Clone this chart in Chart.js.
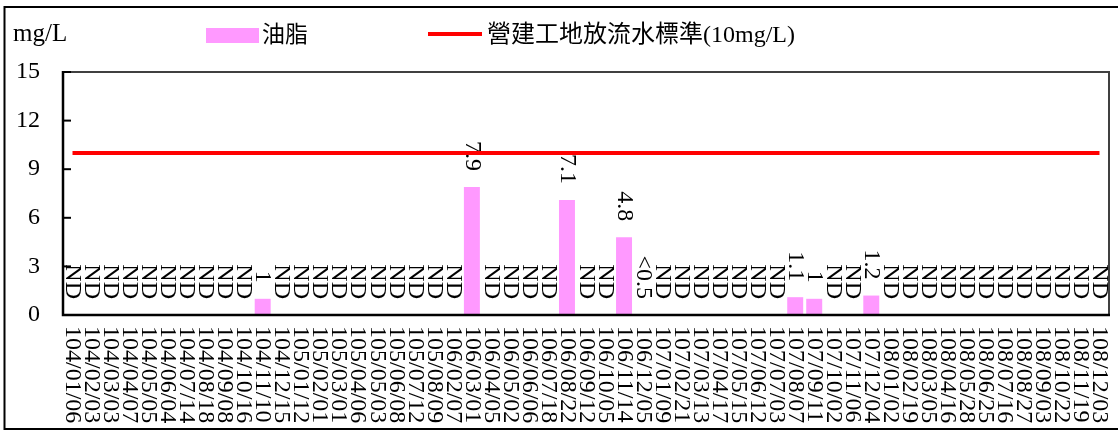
<!DOCTYPE html>
<html><head><meta charset="utf-8">
<script src="https://cdn.jsdelivr.net/npm/chart.js@4.4.1/dist/chart.umd.min.js"></script>
<style>html,body{margin:0;padding:0;background:#fff;}canvas{display:block;}</style>
</head><body>
<canvas id="c" width="1118" height="432"></canvas>
<script>
const categories = ["104/01/06","104/02/03","104/03/03","104/04/07","104/05/05","104/06/04","104/07/14","104/08/18","104/09/08","104/10/16","104/11/10","104/12/15","105/01/12","105/02/01","105/03/01","105/04/06","105/05/03","105/06/08","105/07/12","105/08/09","106/02/07","106/03/01","106/04/05","106/05/02","106/06/06","106/07/18","106/08/22","106/09/12","106/10/05","106/11/14","106/12/05","107/01/09","107/02/21","107/03/13","107/04/17","107/05/15","107/06/12","107/07/03","107/08/07","107/09/11","107/10/02","107/11/06","107/12/04","108/01/02","108/02/19","108/03/05","108/04/16","108/05/28","108/06/25","108/07/16","108/08/27","108/09/03","108/10/22","108/11/19","108/12/03"];
const oilValues = [null,null,null,null,null,null,null,null,null,null,1,null,null,null,null,null,null,null,null,null,null,7.9,null,null,null,null,7.1,null,null,4.8,null,null,null,null,null,null,null,null,1.1,1,null,null,1.2,null,null,null,null,null,null,null,null,null,null,null,null];
const oilLabels = ["ND","ND","ND","ND","ND","ND","ND","ND","ND","ND","1","ND","ND","ND","ND","ND","ND","ND","ND","ND","ND","7.9","ND","ND","ND","ND","7.1","ND","ND","4.8","<0.5","ND","ND","ND","ND","ND","ND","ND","1.1","1","ND","ND","1.2","ND","ND","ND","ND","ND","ND","ND","ND","ND","ND","ND","ND"];
const standardValues = [10,10,10,10,10,10,10,10,10,10,10,10,10,10,10,10,10,10,10,10,10,10,10,10,10,10,10,10,10,10,10,10,10,10,10,10,10,10,10,10,10,10,10,10,10,10,10,10,10,10,10,10,10,10,10];
const yTicks = [0,3,6,9,12,15];
const unitLabel = "mg/L";

const SERIF = '"Liberation Serif", "Times New Roman", serif';
const MIX = '"Liberation Serif", "Noto Sans CJK TC", serif';

const decor = {
  id: 'decor',
  beforeDraw(chart) {
    const ctx = chart.ctx;
    ctx.save(); ctx.fillStyle = '#fff'; ctx.fillRect(0, 0, chart.width, chart.height); ctx.restore();
  },
  afterDatasetDraw(chart, args) {
    if (args.index !== 0) return;
    const ctx = chart.ctx, xs = chart.scales.x, ys = chart.scales.y;
    ctx.save();
    ctx.font = '24px ' + SERIF; ctx.fillStyle = '#000';
    ctx.textAlign = 'right'; ctx.textBaseline = 'middle';
    oilLabels.forEach((txt, i) => {
      if (!txt) return;
      const v = oilValues[i];
      const top = ys.getPixelForValue(v == null ? 0 : v);
      ctx.save(); ctx.translate(xs.getPixelForValue(i), top - 16); ctx.rotate(Math.PI / 2);
      ctx.fillText(txt, 0, 0); ctx.restore();
    });
    ctx.restore();
  },
  afterDraw(chart) {
    const ctx = chart.ctx, a = chart.chartArea, xs = chart.scales.x, ys = chart.scales.y;
    ctx.save();
    // plot frame
    ctx.strokeStyle = '#404040'; ctx.lineWidth = 2;
    ctx.beginPath(); ctx.moveTo(a.left, a.top); ctx.lineTo(a.right, a.top); ctx.lineTo(a.right, a.bottom); ctx.stroke();
    ctx.strokeStyle = '#000'; ctx.lineWidth = 2.5;
    ctx.beginPath(); ctx.moveTo(a.left, a.top - 1); ctx.lineTo(a.left, a.bottom); ctx.lineTo(a.right + 1, a.bottom); ctx.stroke();
    // inner y ticks
    ctx.lineWidth = 2;
    yTicks.forEach(t => {
      const py = ys.getPixelForValue(t);
      ctx.beginPath(); ctx.moveTo(a.left, py); ctx.lineTo(a.left + 8, py); ctx.stroke();
    });
    // x labels rotated clockwise
    ctx.fillStyle = '#000'; ctx.font = '24px ' + SERIF;
    ctx.textAlign = 'left'; ctx.textBaseline = 'middle';
    categories.forEach((c, i) => {
      ctx.save(); ctx.translate(xs.getPixelForValue(i), a.bottom + 11); ctx.rotate(Math.PI / 2);
      ctx.fillText(c, 0, 0); ctx.restore();
    });
    // unit
    ctx.textBaseline = 'alphabetic'; ctx.font = '25px ' + SERIF;
    ctx.fillText(unitLabel, 13, 41);
    // legend
    const ds = chart.data.datasets;
    ctx.fillStyle = ds[0].backgroundColor; ctx.fillRect(206, 28, 53, 15);
    ctx.fillStyle = '#000'; ctx.textBaseline = 'middle'; ctx.font = '23px ' + MIX;
    ctx.fillText(ds[0].label, 262, 36);
    ctx.strokeStyle = ds[1].borderColor; ctx.lineWidth = 4;
    ctx.beginPath(); ctx.moveTo(428, 34); ctx.lineTo(482, 34); ctx.stroke();
    ctx.font = '24px ' + MIX;
    ctx.fillText(ds[1].label, 487, 36);
    // outer frame
    ctx.strokeStyle = '#000'; ctx.lineWidth = 2;
    ctx.beginPath(); ctx.moveTo(1120, 7); ctx.lineTo(4.5, 7); ctx.lineTo(4.5, 429); ctx.lineTo(1120, 429); ctx.stroke();
    ctx.restore();
  }
};

new Chart(document.getElementById('c'), {
  data: {
    labels: categories,
    datasets: [
      { type: 'bar', label: '油脂', data: oilValues, backgroundColor: '#FF99FF', borderWidth: 0,
        barPercentage: 0.84, categoryPercentage: 1, order: 2 },
      { type: 'line', label: '營建工地放流水標準(10mg/L)', data: standardValues, borderColor: '#FF0000',
        backgroundColor: '#FF0000', borderWidth: 4, pointRadius: 0, tension: 0, order: 1 }
    ]
  },
  options: {
    responsive: false, animation: false, devicePixelRatio: 1,
    layout: { padding: { left: 0, top: 72, right: 9, bottom: 0 } },
    plugins: { legend: { display: false }, tooltip: { enabled: false } },
    scales: {
      x: { type: 'category', offset: true, grid: { display: false }, border: { display: false },
           ticks: { display: false }, afterFit: s => { s.height = 117; } },
      y: { min: yTicks[0], max: yTicks[yTicks.length - 1], grid: { display: false, drawTicks: false },
           border: { display: false },
           ticks: { stepSize: yTicks[1] - yTicks[0], padding: 23, color: '#000', font: { family: SERIF, size: 24 } },
           afterFit: s => { s.width = 63; } }
    }
  },
  plugins: [decor]
});
</script>
</body></html>
